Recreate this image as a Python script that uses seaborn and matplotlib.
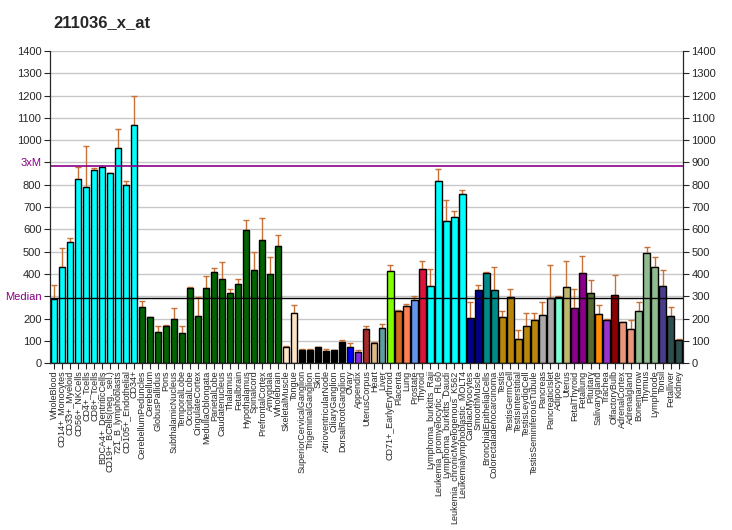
import matplotlib
matplotlib.use("Agg")
import matplotlib.pyplot as plt
import seaborn as sns
import pandas as pd
import numpy as np

# 데이터
tissues = [
    "WholeBlood", "CD14+_Monocytes", "CD33+_Myeloid", "CD56+_NKCells", "CD4+_Tcells",
    "CD8+_Tcells", "BDCA4+_DentriticCells", "CD19+_BCells(neg._sel.)", "721_B_lymphoblasts",
    "CD105+_Endothelial", "CD34+", "CerebellumPeduncles", "Cerebellum", "GlobusPallidus",
    "Pons", "SubthalamicNucleus", "TemporalLobe", "OccipitalLobe", "CingulateCortex",
    "MedullaOblongata", "ParietalLobe", "Caudatenucleus", "Thalamus", "Fetalbrain",
    "Hypothalamus", "Spinalcord", "PrefrontalCortex", "Amygdala", "Wholebrain",
    "SkeletalMuscle", "Tongue", "SuperiorCervicalGanglion", "TrigeminalGanglion", "Skin",
    "AtrioventricularNode", "CiliaryGanglion", "DorsalRootGanglion", "Ovary", "Appendix",
    "UterusCorpus", "Heart", "Liver", "CD71+_EarlyErythroid", "Placenta", "Lung",
    "Prostate", "Thyroid", "Lymphoma_burkitts_Raji", "Leukemia_promyelocytic_HL60",
    "Lymphoma_burkitts_Daudi", "Leukemia_chronicMyelogenous_K562",
    "Leukemialymphoblastic_MOLT4", "CardiacMyocytes", "SmoothMuscle",
    "BronchialEpithelialCells", "Colorectaladenocarcinoma", "Testis", "TestisGermCell",
    "TestisInterstitial", "TestisLeydigCell", "TestisSeminiferousTubule", "Pancreas",
    "PancreaticIslet", "Adipocyte", "Uterus", "FetalThyroid", "Fetallung", "Pituitary",
    "Salivarygland", "Trachea", "OlfactoryBulb", "AdrenalCortex", "Adrenalgland",
    "Bonemarrow", "Thymus", "Lymphnode", "Tonsil", "Fetalliver", "Kidney",
]

values = [
    287, 430, 542, 828, 788, 864, 881, 851, 967, 797, 1070,
    251, 206, 139, 167, 197, 134, 336, 210, 336, 407, 378, 313, 354,
    596, 416, 551, 399, 524, 72, 224, 60, 60, 73, 55, 60, 96, 72, 51,
    152, 90, 157, 412, 234, 255, 282, 421, 345, 815, 636, 654, 757,
    201, 327, 403, 327, 206, 296, 107, 166, 193, 215, 293, 299, 342,
    246, 403, 313, 219, 193, 304, 184, 152, 233, 493, 430, 345, 210, 103,
]

upper = [
    349, 515, 560, 878, 972, 873, 881, 855, 1052, 819, 1196,
    278, 206, 167, 170, 246, 166, 340, 299, 390, 425, 452, 331, 378,
    640, 501, 649, 475, 573, 76, 260, 63, 66, 73, 63, 60, 103, 90, 58,
    166, 97, 175, 439, 237, 267, 300, 457, 421, 869, 734, 681, 775,
    273, 349, 407, 430, 233, 331, 148, 227, 227, 273, 439, 301, 457,
    331, 479, 372, 260, 197, 394, 184, 193, 273, 519, 475, 416, 251, 107,
]

colors = (
    ["#00FFFF"] * 11 + ["#006400"] * 18 + ["#FFE4C4"] * 2 + ["#000000"] * 6 +
    ["#0000FF", "#8A2BE2", "#A52A2A", "#DEB887", "#5F9EA0", "#7FFF00", "#D2691E",
     "#FF7F50", "#6495ED", "#DC143C"] +
    ["#00FFFF"] * 5 + ["#00008B"] * 2 + ["#008B8B"] * 2 + ["#B8860B"] * 5 +
    ["#A9A9A9"] * 2 +
    ["#7FFFD4", "#BDB76B", "#8B008B", "#8B008B", "#556B2F", "#FF8C00", "#9932CC",
     "#8B0000", "#E9967A", "#E9967A", "#8FBC8F", "#8FBC8F", "#8FBC8F", "#483D8B",
     "#2F4F4F", "#2F4F4F"]
)

median = 294.5
title = "211036_x_at"
yticks = list(range(0, 1401, 100))

df = pd.DataFrame({"tissue": tissues, "value": values})

sns.set_style("white")
plt.rcParams["font.family"] = ["Liberation Sans", "DejaVu Sans"]

fig = plt.figure(figsize=(7.32, 5.3), dpi=100)
ax = fig.add_axes([0.068, 0.3145, 0.865, 0.5895])

sns.barplot(data=df, x="tissue", y="value", hue="tissue", palette=colors,
            legend=False, width=0.78, edgecolor="black", linewidth=1.0,
            saturation=1, ax=ax, zorder=2)

# 위쪽 방향 오차 막대
x = np.arange(len(values))
up = np.array(upper) - np.array(values)
ax.errorbar(x, values, yerr=[np.zeros(len(values)), up], fmt="none",
            ecolor="#C87137", elinewidth=1.0, capsize=2.5, capthick=1.0, zorder=1.5)

# 기준선 (3xM, Median)
ax.axhline(median * 3, color="#880088", lw=1.2, zorder=3)
ax.axhline(median, color="#000000", lw=1.0, zorder=3)

ax.set_ylim(0, 1400)
ax.set_xlim(-0.55, len(values) - 0.45)
ax.set_yticks(yticks)
left_labels = [str(v) for v in yticks]
left_labels[9] = "3xM"
left_labels[3] = "Median"
ax.set_yticklabels(left_labels)
for i, lab in enumerate(ax.get_yticklabels()):
    if i in (3, 9):
        lab.set_color("#880088")
ax.yaxis.grid(True, color="#C8C8C8", lw=1.0)
ax.set_axisbelow(True)
ax.set_xlabel("")
ax.set_ylabel("")
ax.tick_params(axis="y", labelsize=8, length=4, direction="out", left=True, pad=2)
ax.tick_params(axis="x", labelsize=6.5, length=4, direction="out", bottom=True, pad=1)
ax.set_xticks(x)
ax.set_xticklabels(tissues, rotation=90)
ax.spines["top"].set_visible(False)
for s in ["left", "right", "bottom"]:
    ax.spines[s].set_color("black")

ax2 = ax.twinx()
ax2.set_ylim(0, 1400)
ax2.set_yticks(yticks)
ax2.tick_params(axis="y", labelsize=8, length=4, direction="out", right=True, pad=2)
ax2.spines["top"].set_visible(False)
ax2.grid(False)

fig.text(0.073, 0.957, title, fontsize=12, fontweight="bold", ha="left", va="center")

fig.savefig("out.png", dpi=100)
